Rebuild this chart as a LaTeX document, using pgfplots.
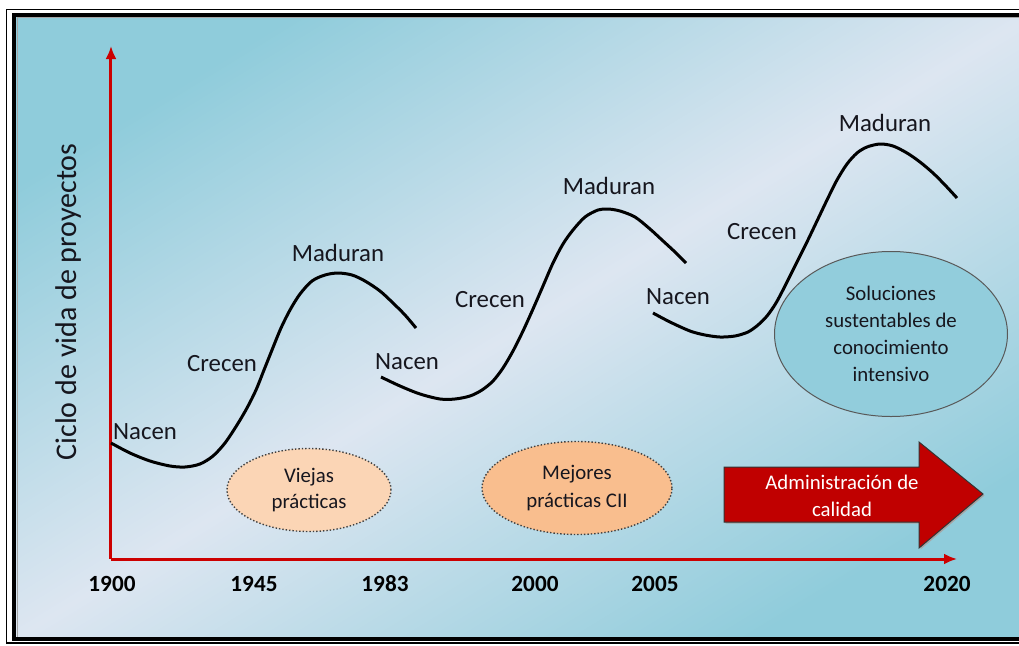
\documentclass[border=0pt]{standalone}
\usepackage{pgfplots}
\pgfplotsset{compat=1.18}
\usepackage{fontspec}
\setmainfont{Carlito}
\usetikzlibrary{arrows.meta,shapes.geometric}
\definecolor{bgteal}{RGB}{143,204,219}
\definecolor{bglight}{RGB}{221,230,241}
\definecolor{axred}{RGB}{204,0,0}
\definecolor{arrowred}{RGB}{192,0,0}
\definecolor{peach}{RGB}{251,213,181}
\definecolor{peachdark}{RGB}{249,190,142}
\definecolor{ellteal}{RGB}{146,205,220}
\definecolor{txt}{RGB}{22,22,30}
\begin{document}
\begin{tikzpicture}
\begin{axis}[
  set layers, clip=false,
  x=0.5pt, y=0.5pt,
  xmin=111, xmax=957, ymin=86, ymax=599,
  axis lines=left,
  axis line style={draw=axred, line width=1.5pt, -{Latex[length=6.5pt,width=5.5pt]}},
  xtick={112,254,385,535,655,947},
  xticklabels={1900,1945,1983,2000,2005,2020},
  xtick style={draw=none},
  major tick length=0pt,
  ytick=\empty,
  xticklabel style={font=\bfseries\fontsize{11.6}{14}\selectfont, text=black, anchor=base, yshift=-16pt},
  ylabel={Ciclo de vida de proyectos},
  ylabel style={at={(axis description cs:-0.0508,0.501)}, anchor=center, font=\fontsize{15}{18}\selectfont, text=txt},
]
\begin{pgfonlayer}{axis background}
  \fill[white] (axis cs:0,0) rectangle (axis cs:1019,645);
  \shade[top color=bgteal, bottom color=bgteal, middle color=bglight, shading angle=31.5]
     (axis cs:16,7) rectangle (axis cs:1030,629);
  \draw[black!35, line width=0.5pt] (axis cs:17.5,7.5) rectangle (axis cs:1030,627.5);
  \draw[black, line width=2pt] (axis cs:14.5,6) rectangle (axis cs:1030,630);
  \draw[black, line width=0.7pt] (axis cs:6.5,2) rectangle (axis cs:1030,635.5);
\end{pgfonlayer}
\coordinate (bl) at (axis cs:0,0);
\coordinate (tr) at (axis cs:1019,645);

% curve 1
\addplot[black, line width=1.5pt, smooth] coordinates {
 (111,202) (130,192) (150,184) (170,179) (185,178) (200,181) (213,189) (225,202)
 (237,220) (247,237) (256,255) (264,275) (272,295) (281,317) (290,335) (300,351)
 (312,364) (325,370) (338,372) (352,370) (365,364) (380,354) (393,342) (405,330) (416,317)};
% curve 2
\addplot[black, line width=1.5pt, smooth] coordinates {
 (381,268) (400,259) (420,251) (440,246) (455,246) (470,249) (482,255) (493,264)
 (503,277) (513,294) (523,314) (533,336) (543,359) (553,382) (563,401) (573,415)
 (585,428) (598,435) (608,436) (620,434) (635,428) (650,416) (662,405) (675,393) (686,382)};
% curve 3
\addplot[black, line width=1.5pt, smooth] coordinates {
 (653,332) (670,323) (690,314) (705,310) (720,308) (735,309) (748,313) (758,320)
 (767,329) (776,342) (785,359) (795,379) (806,401) (817,424) (827,445) (837,465)
 (847,481) (857,492) (867,498) (880,501) (893,499) (907,492) (920,483) (933,472) (945,460) (957,447)};

% stage labels
\begin{scope}[every node/.style={font=\fontsize{12.4}{15}\selectfont, text=txt, inner sep=0pt}]
\node at (axis cs:145,213) {Nacen};
\node at (axis cs:222,281) {Crecen};
\node at (axis cs:338,392) {Maduran};
\node at (axis cs:407,283) {Nacen};
\node at (axis cs:490,345) {Crecen};
\node at (axis cs:609,459) {Maduran};
\node at (axis cs:678,348) {Nacen};
\node at (axis cs:762,413) {Crecen};
\node at (axis cs:885,522) {Maduran};
\end{scope}

% ellipses
\node[ellipse, draw=black!75, densely dotted, line width=0.7pt, fill=peach, inner sep=0pt,
      minimum width=82pt, minimum height=41.5pt, align=center, text=txt,
      font=\fontsize{10.4}{13}\selectfont] at (axis cs:309,155) {Viejas\\prácticas};
\node[ellipse, draw=black!75, densely dotted, line width=0.7pt, fill=peachdark, inner sep=0pt,
      minimum width=95pt, minimum height=46.5pt, align=center, text=txt,
      font=\fontsize{10.4}{14}\selectfont] at (axis cs:577,157) {Mejores\\prácticas CII};
\node[ellipse, draw=black!65, line width=0.5pt, fill=ellteal, inner sep=0pt,
      minimum width=116.5pt, minimum height=82.5pt, align=center, text=txt,
      font=\fontsize{10.4}{13.5}\selectfont] at (axis cs:891,311)
      {Soluciones\\sustentables de\\conocimiento\\intensivo};

% big arrow
\fill[black!35] (axis cs:725.5,176.5) -- (axis cs:920.5,176.5) -- (axis cs:920.5,201.5) -- (axis cs:984.5,149.5)
   -- (axis cs:920.5,95.5) -- (axis cs:920.5,121.5) -- (axis cs:725.5,121.5) -- cycle;
\filldraw[fill=arrowred, draw=black!80, line width=0.5pt]
   (axis cs:724,178) -- (axis cs:919,178) -- (axis cs:919,203) -- (axis cs:983,151)
   -- (axis cs:919,97) -- (axis cs:919,123) -- (axis cs:724,123) -- cycle;
\node[text=white, align=center, font=\fontsize{10.4}{13.5}\selectfont] at (axis cs:842,149)
   {Administración de\\calidad};
\end{axis}
\pgfresetboundingbox
\useasboundingbox (bl) rectangle (tr);
\end{tikzpicture}
\end{document}
